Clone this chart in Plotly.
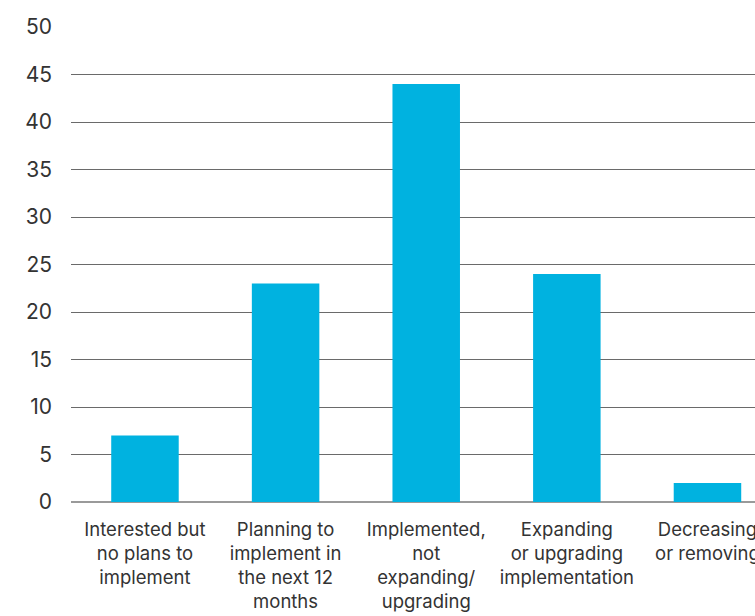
import plotly.graph_objects as go

categories = [
    "Interested but<br>no plans to<br>implement",
    "Planning to<br>implement in<br>the next 12<br>months",
    "Implemented,<br>not<br>expanding/<br>upgrading",
    "Expanding<br>or upgrading<br>implementation",
    "Decreasing<br>or removing",
]
values = [7, 23, 44, 24, 2]
y_ticks = [0, 5, 10, 15, 20, 25, 30, 35, 40, 45, 50]

fig = go.Figure(
    go.Bar(
        x=categories,
        y=values,
        marker=dict(color="#00B2E0", line=dict(width=0)),
        width=0.48,
    )
)

fig.update_layout(
    width=755,
    height=616,
    margin=dict(l=71, r=0, t=27, b=114),
    plot_bgcolor="white",
    paper_bgcolor="white",
    font=dict(family="Inter, Noto Sans, sans-serif", color="#333333"),
    showlegend=False,
)

fig.update_xaxes(
    range=[-0.526, 4.338],
    automargin=False,
    showgrid=False,
    showline=False,
    ticks="",
    tickangle=0,
    tickfont=dict(size=18.5, color="#333333"),
    ticklabelstandoff=14,
)

fig.update_yaxes(
    range=[0, 50],
    automargin=False,
    tickvals=y_ticks,
    showgrid=True,
    gridcolor="#6a6a6a",
    gridwidth=1,
    zeroline=True,
    zerolinecolor="#9a9a9a",
    zerolinewidth=2,
    showline=False,
    ticks="",
    tickfont=dict(size=21, color="#333333"),
    ticklabelstandoff=18,
)

fig.write_html("out.html")
